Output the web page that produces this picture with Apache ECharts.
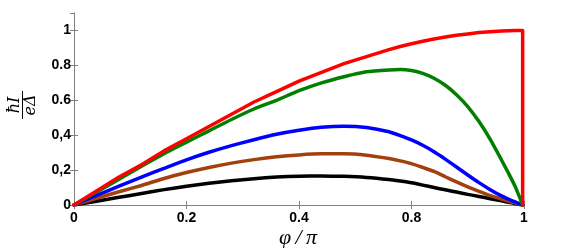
<!DOCTYPE html>
<html><head><meta charset="utf-8">
<script src="https://cdn.jsdelivr.net/npm/echarts@6/dist/echarts.min.js"></script>
<style>html,body{margin:0;padding:0;background:#fff}#c{width:581px;height:248px}</style>
</head><body><div id="c"></div>
<script>
// phase phi/pi
const phi = [0,0.05,0.1,0.15,0.2,0.25,0.3,0.35,0.4,0.45,0.5,0.55,0.6,0.65,0.7,0.725,0.75,0.775,0.8,0.825,0.85,0.875,0.9,0.925,0.95,0.965,0.98,0.997];
const redI   = [0,0.08,0.16,0.23,0.31,0.38,0.45,0.52,0.59,0.65,0.71,0.76,0.81,0.85,0.89,0.908,0.924,0.938,0.951,0.962,0.972,0.98,0.988,0.993,0.997,0.999,1.0,1.0];
const redDropPhi = 0.997, redDropI = 0;
const greenI = [0,0.074,0.148,0.222,0.294,0.36,0.425,0.49,0.55,0.60,0.655,0.70,0.735,0.763,0.774,0.776,0.770,0.754,0.726,0.686,0.632,0.564,0.478,0.376,0.258,0.185,0.108,0];
const blueI  = [0,0.055,0.108,0.16,0.21,0.259,0.302,0.340,0.374,0.405,0.428,0.445,0.451,0.444,0.420,0.398,0.373,0.342,0.305,0.263,0.218,0.172,0.128,0.088,0.052,0.034,0.018,0];
const brownI = [0,0.038,0.076,0.112,0.152,0.186,0.215,0.240,0.260,0.276,0.287,0.293,0.293,0.285,0.266,0.253,0.237,0.215,0.192,0.162,0.132,0.104,0.078,0.054,0.034,0.023,0.012,0];
const blackI = [0,0.022,0.044,0.066,0.088,0.107,0.124,0.139,0.151,0.160,0.165,0.166,0.164,0.158,0.146,0.137,0.127,0.114,0.100,0.087,0.074,0.061,0.049,0.036,0.024,0.016,0.009,0];
const xTickLabels = ['0','0.2','0.4','0.8','1'];
const yTickLabels = ['0','0,2','0,4','0.6','0.8','1'];

const pairs = a => phi.map((p,i)=>[p,a[i]]);
const redData = pairs(redI).concat([[redDropPhi, redDropI]]);

const axisCol = '#808080';
const labelFont = {fontFamily:'Liberation Sans, Arial, sans-serif', fontWeight:'bold', fontSize:14, color:'#000'};
function xAx(pos, showLabel){
  return {type:'value', position:pos, min:0, max:1, interval:0.25,
    axisLine:{show:true,lineStyle:{color:axisCol,width:1}},
    axisTick:{show:true,inside:true,length:4,lineStyle:{color:axisCol}},
    splitLine:{show:false},
    axisLabel:Object.assign({show:showLabel, margin:6, formatter:v=>{const k=Math.round(v/0.25);return Math.abs(k*0.25-v)<1e-6?xTickLabels[k]:'';}},labelFont)};
}
function yAx(pos, showLabel){
  return {type:'value', position:pos, min:0, max:1.1, interval:0.2,
    axisLine:{show:true,lineStyle:{color:axisCol,width:1}},
    axisTick:{show:true,inside:true,length:4,lineStyle:{color:axisCol}},
    splitLine:{show:false},
    axisLabel:Object.assign({show:showLabel, margin:3, showMaxLabel:false, formatter:v=>{const k=Math.round(v/0.2);return (Math.abs(k*0.2-v)<1e-6 && k<yTickLabels.length)?yTickLabels[k]:'';}},labelFont)};
}
const lw = 3.5;
function ser(name, data, color, smooth){
  return {name, type:'line', data, showSymbol:false, symbol:'none', smooth:smooth,
    lineStyle:{color, width:lw, join:'round', cap:'round'}, xAxisIndex:0, yAxisIndex:0, animation:false, z:2};
}
const chart = echarts.init(document.getElementById('c'), null, {renderer:'canvas'});
chart.setOption({
  animation:false,
  grid:{left:74, right:57, top:13, bottom:43, containLabel:false},
  xAxis:[xAx('bottom',true), xAx('top',false)],
  yAxis:[yAx('left',true), yAx('right',false)],
  series:[
    ser('black', pairs(blackI), '#000000', 0.2),
    ser('brown', pairs(brownI), '#a2400e', 0.2),
    ser('blue', pairs(blueI), '#0000ff', 0.2),
    ser('green', pairs(greenI), '#007f00', 0.2),
    ser('red', redData, '#ff0000', false)
  ],
  graphic:[
    {type:'text', x:298, y:238, style:{text:'φ\u2009/\u2009π', font:'italic 22px "Liberation Serif", "DejaVu Serif", serif', fill:'#000', align:'center', verticalAlign:'middle'}},
    {type:'group', x:22.5, y:105, rotation:Math.PI/2, children:[
      {type:'text', x:0, y:-8, style:{text:'ħI', font:'italic 16px "DejaVu Serif", serif', fill:'#000', align:'center', verticalAlign:'middle'}},
      {type:'line', shape:{x1:-14,y1:0,x2:14,y2:0}, style:{stroke:'#000', lineWidth:1}},
      {type:'text', x:0, y:8, style:{text:'eΔ', font:'italic 16px "DejaVu Serif", serif', fill:'#000', align:'center', verticalAlign:'middle'}}
    ]}
  ]
});
</script></body></html>
